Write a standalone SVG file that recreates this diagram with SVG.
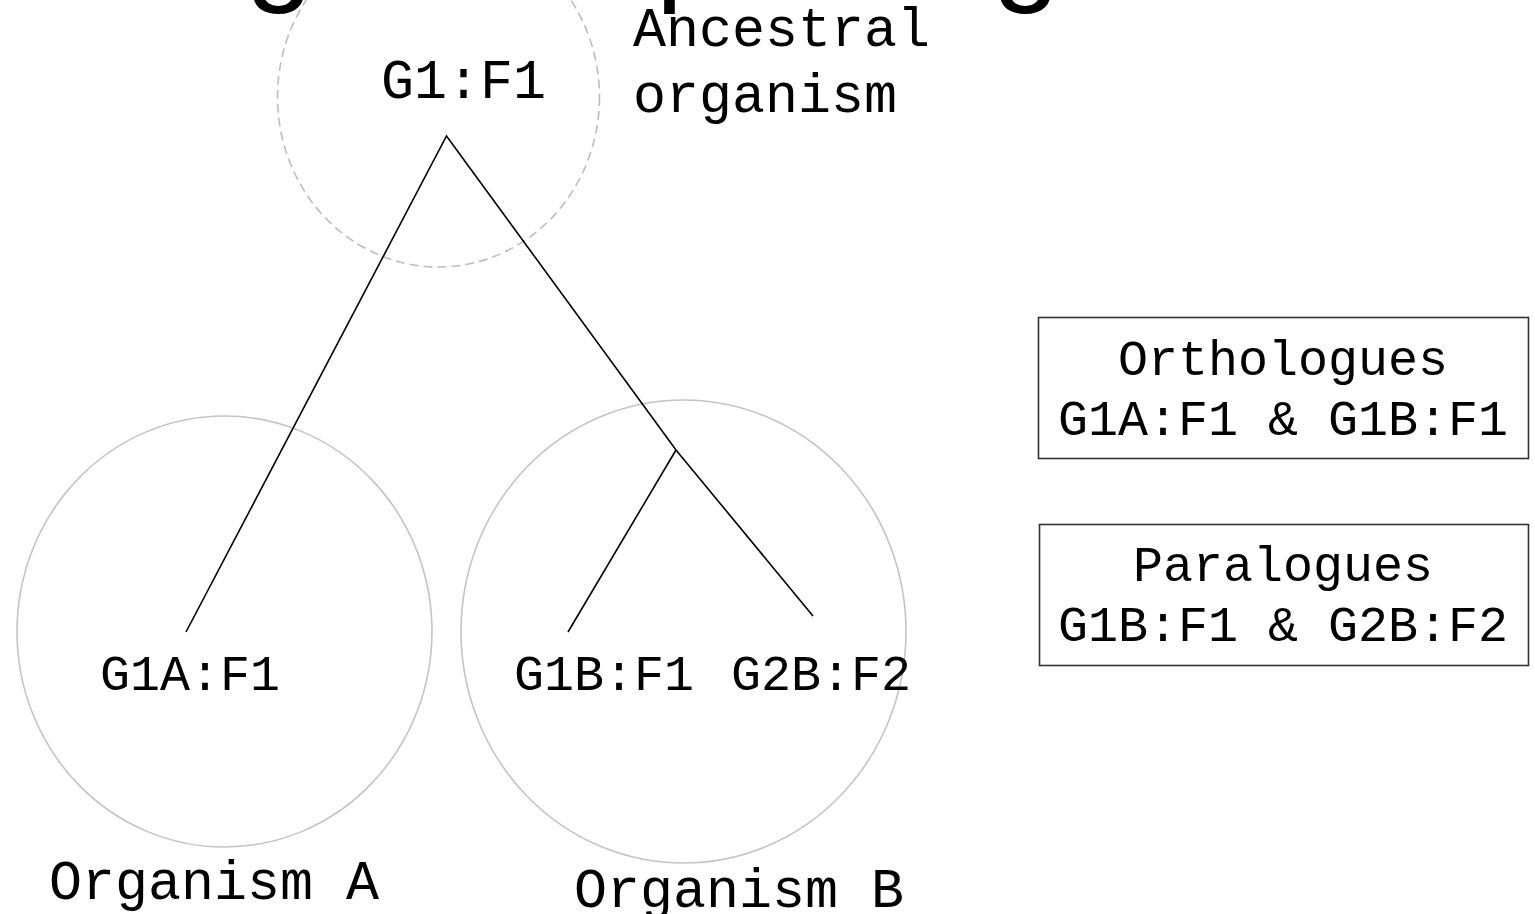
<svg xmlns="http://www.w3.org/2000/svg" width="1535" height="914" viewBox="0 0 1535 914">
<style>
.mono{font-family:"Liberation Mono","Courier New",monospace;fill:#000}
.big{font-size:55px}
.small{font-size:50px}
.org{fill:none;stroke:#c4c4c4;stroke-width:1.6}
.anc{fill:none;stroke:#bdbdbd;stroke-width:1.6;stroke-dasharray:9 5}
.box{fill:#fff;stroke:#333;stroke-width:1.6}
.edge{fill:none;stroke:#000;stroke-width:1.6;stroke-linejoin:miter}
</style>
<rect width="1535" height="914" fill="#fff"/>
<text id="title" x="-151" y="-11" font-family="'Liberation Sans',Arial,sans-serif" font-size="121" fill="#000">Orthologues &amp; paralogues</text>
<g id="ancestral">
<ellipse class="anc" cx="438.5" cy="97" rx="161" ry="170"/>
<text class="mono big" x="381" y="98">G1:F1</text>
<text class="mono big" x="633" y="46">Ancestral</text>
<text class="mono big" x="633" y="112">organism</text>
</g>
<g id="organismA">
<ellipse class="org" cx="224.5" cy="631.5" rx="207.5" ry="215.5"/>
<text class="mono small" x="100" y="690">G1A:F1</text>
<text class="mono big" x="49" y="899">Organism A</text>
</g>
<g id="organismB">
<ellipse class="org" cx="683.5" cy="631.5" rx="222.5" ry="231.5"/>
<text class="mono small" x="514" y="690">G1B:F1</text>
<text class="mono small" x="731" y="690">G2B:F2</text>
<text class="mono big" x="574" y="907">Organism B</text>
</g>
<g id="connectors">
<polyline class="edge" points="186,632 446.5,136 676,450 813,616"/>
<line class="edge" x1="676" y1="450" x2="568" y2="632"/>
</g>
<g id="orthologues">
<rect class="box" x="1038.5" y="317.5" width="490" height="141"/>
<text class="mono small" x="1283" y="375" text-anchor="middle">Orthologues</text>
<text class="mono small" x="1283" y="435" text-anchor="middle">G1A:F1 &amp; G1B:F1</text>
</g>
<g id="paralogues">
<rect class="box" x="1039.5" y="524.5" width="489" height="141"/>
<text class="mono small" x="1283" y="581" text-anchor="middle">Paralogues</text>
<text class="mono small" x="1283" y="641" text-anchor="middle">G1B:F1 &amp; G2B:F2</text>
</g>
</svg>
